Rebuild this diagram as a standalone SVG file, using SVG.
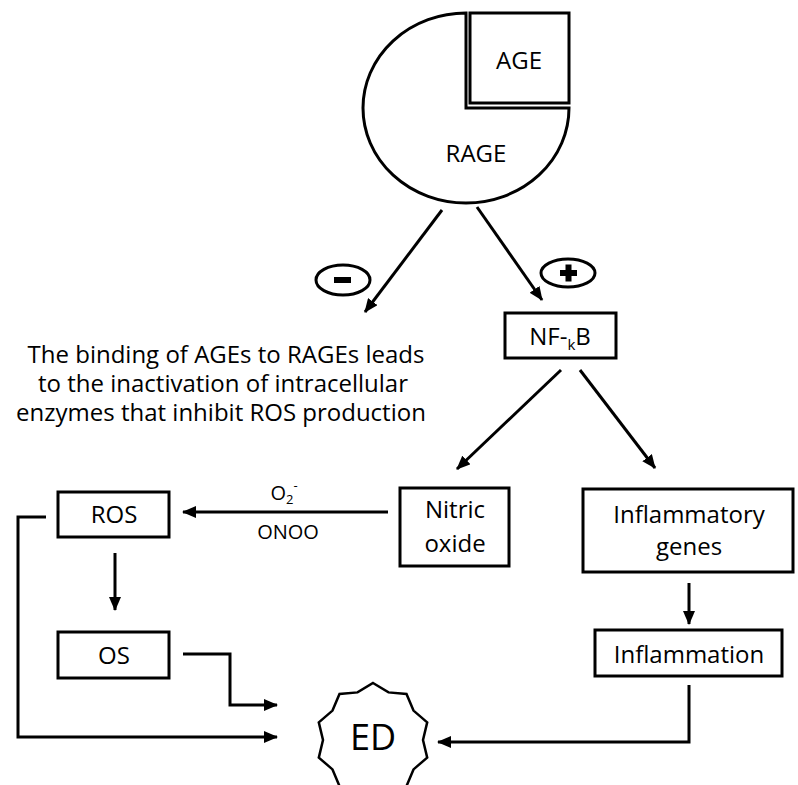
<svg xmlns="http://www.w3.org/2000/svg" width="798" height="785" viewBox="0 0 798 785">
<defs>
<marker id="ah" markerUnits="userSpaceOnUse" markerWidth="14" markerHeight="12" refX="13" refY="6" orient="auto">
<path d="M0,0 L14,6 L0,12 Z" fill="#000"/>
</marker>
<style>
.box{fill:#fff;stroke:#000;stroke-width:3}
.t{font-family:"Open Sans","Liberation Sans",sans-serif;font-size:24px;fill:#000;text-anchor:middle}
.c{fill:none;stroke:#000;stroke-width:3;marker-end:url(#ah)}
.ln{fill:none;stroke:#000;stroke-width:3}
</style>
</defs>
<rect width="798" height="785" fill="#fff"/>

<g id="rage">
<path class="box" d="M466,13 A103,95 0 1 0 569,108 L466,108 Z"/>
<text class="t" x="476" y="162">RAGE</text>
</g>
<g id="age">
<rect class="box" x="470" y="13" width="99" height="90"/>
<text class="t" x="519" y="69">AGE</text>
</g>

<g id="minus">
<ellipse cx="343" cy="280" rx="27" ry="15" fill="#fff" stroke="#000" stroke-width="3"/>
<rect x="334" y="277" width="17" height="6" fill="#000"/>
</g>
<g id="plus">
<ellipse cx="568" cy="273" rx="27" ry="14" fill="#fff" stroke="#000" stroke-width="3"/>
<rect x="560" y="270" width="17" height="6" fill="#000"/>
<rect x="565.5" y="264.5" width="6" height="17" fill="#000"/>
</g>

<g id="note">
<text class="t" x="226" y="363">The binding of AGEs to RAGEs leads</text>
<text class="t" x="223" y="392">to the inactivation of intracellular</text>
<text class="t" x="221" y="421">enzymes that inhibit ROS production</text>
</g>

<g id="nfkb">
<rect class="box" x="505" y="313" width="111" height="45"/>
<text class="t" x="560" y="345">NF-<tspan font-size="15" dy="5">k</tspan><tspan dy="-5">B</tspan></text>
</g>

<g id="nitric">
<rect class="box" x="400" y="488" width="109" height="78"/>
<text class="t" x="455" y="518">Nitric</text>
<text class="t" x="455" y="552">oxide</text>
</g>

<g id="genes">
<rect class="box" x="583" y="489" width="210" height="83"/>
<text class="t" x="689" y="523">Inflammatory</text>
<text class="t" x="689" y="555">genes</text>
</g>

<g id="inflammation">
<rect class="box" x="595" y="630" width="187" height="46"/>
<text class="t" x="689" y="663">Inflammation</text>
</g>

<g id="ros">
<rect class="box" x="58" y="492" width="111" height="45"/>
<text class="t" x="114" y="523">ROS</text>
</g>

<g id="os">
<rect class="box" x="58" y="632" width="111" height="46"/>
<text class="t" x="114" y="664">OS</text>
</g>

<g id="ed">
<polygon fill="#fff" stroke="#000" stroke-width="2.5" stroke-linejoin="miter" points="373,683 388.5,692.4 406.5,693.9 413.5,710.6 427.2,722.4 423,740 427.2,757.6 413.5,769.4 406.5,786.1 388.5,787.6 373,797 357.5,787.6 339.5,786.1 332.5,769.4 318.8,757.6 323,740 318.8,722.4 332.5,710.6 339.5,693.9 357.5,692.4"/>
<text class="t" x="373" y="750" font-size="36" style="font-size:36px">ED</text>
</g>

<g id="labels">
<text class="t" x="284" y="500" style="font-size:20px">O<tspan font-size="13" style="font-size:13px" dy="4">2</tspan><tspan font-size="13" style="font-size:13px" dy="-14">-</tspan></text>
<text class="t" x="288" y="539" style="font-size:20px">ONOO</text>
</g>

<g id="connectors">
<line class="c" x1="442" y1="210" x2="365" y2="312"/>
<line class="c" x1="477" y1="207" x2="542" y2="300"/>
<line class="c" x1="561" y1="370" x2="457" y2="469"/>
<line class="c" x1="580" y1="370" x2="655" y2="468"/>
<line class="c" x1="388" y1="512" x2="183" y2="512"/>
<line class="c" x1="115" y1="553" x2="115" y2="610"/>
<polyline class="c" points="46,517 18,517 18,737 277,737"/>
<polyline class="c" points="183,654 230,654 230,705 277,705"/>
<line class="c" x1="689" y1="583" x2="689" y2="624"/>
<polyline class="c" points="689,685 689,742 438,742"/>
</g>
</svg>
